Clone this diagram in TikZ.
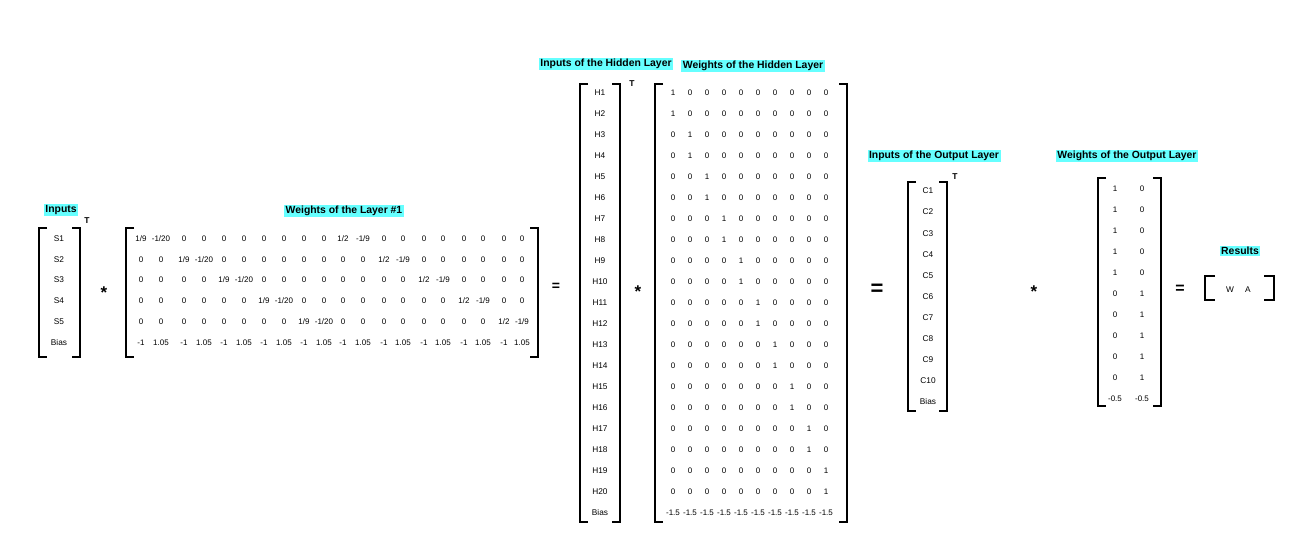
\documentclass[tikz,border=0pt]{standalone}
\usepackage{fontspec}
\setmainfont{Liberation Sans}
\definecolor{hl}{RGB}{102,255,255}
\tikzset{
  lbl/.style={fill=hl,inner xsep=1.5pt,inner ysep=1.2pt,font=\fontsize{10.4}{11}\selectfont\bfseries},
  ent/.style={inner sep=0pt,font=\fontsize{8}{9}\selectfont},
  var/.style={inner sep=0pt,font=\fontsize{8.3}{9}\selectfont},
  brk/.style={line width=1.6pt},
  op/.style={inner sep=0pt,font=\fontsize{17}{18}\selectfont\bfseries},
  tr/.style={inner sep=0pt,font=\fontsize{8.5}{9}\selectfont\bfseries}
}
\newcommand\mbrk[5]{% x1,y1,x2,y2,arm
  \draw[brk] (#1+#5,#2) -- (#1,#2) -- (#1,#4) -- (#1+#5,#4);
  \draw[brk] (#3-#5,#2) -- (#3,#2) -- (#3,#4) -- (#3-#5,#4);}
\begin{document}
\begin{tikzpicture}[x=1pt,y=-1pt]
\useasboundingbox (0,0) rectangle (1294,556);

% ---------- Inputs ----------
\node[lbl] (lblin) at (61,210) {Inputs};
\mbrk{39}{228}{80}{357}{8}
\foreach \t [count=\i from 0] in {S1,S2,S3,S4,S5,Bias}
  \node[var] (in-\i) at (59,238.5+20.8*\i) {\t};
\node[tr] (tin) at (87,221) {T};
\node[op] (op1) at (104,293) {*};

% ---------- Weights of layer 1 ----------
\node[lbl] (lblw1) at (344,211) {Weights of the Layer \#1};
\mbrk{126}{228}{538}{357}{8}
\def\colx{{141,161,184,204,224,244,264,284,304,324,343,363,384,403,424,443,464,483,504,522}}
\foreach \row [count=\r from 0] in {
  {1/9,-1/20,0,0,0,0,0,0,0,0,1/2,-1/9,0,0,0,0,0,0,0,0},
  {0,0,1/9,-1/20,0,0,0,0,0,0,0,0,1/2,-1/9,0,0,0,0,0,0},
  {0,0,0,0,1/9,-1/20,0,0,0,0,0,0,0,0,1/2,-1/9,0,0,0,0},
  {0,0,0,0,0,0,1/9,-1/20,0,0,0,0,0,0,0,0,1/2,-1/9,0,0},
  {0,0,0,0,0,0,0,0,1/9,-1/20,0,0,0,0,0,0,0,0,1/2,-1/9},
  {-1,1.05,-1,1.05,-1,1.05,-1,1.05,-1,1.05,-1,1.05,-1,1.05,-1,1.05,-1,1.05,-1,1.05}}{
  \foreach \v [count=\c from 0] in \row {
    \pgfmathsetmacro\xx{\colx[\c]}
    \node[ent] (wa-\r-\c) at (\xx,238.5+20.8*\r) {\v};
  }
}
\node[op,font=\fontsize{14}{15}\selectfont\bfseries] (eq1) at (556,287) {=};

% ---------- Inputs of hidden layer ----------
\node[lbl] (lblhin) at (606,64) {Inputs of the Hidden Layer};
\mbrk{580}{84}{620}{522}{8}
\foreach \i in {1,...,20}
  \node[var] (h-\i) at (600,93+21*\i-21) {H\i};
\node[var] (h-bias) at (600,513) {Bias};
\node[tr] (thin) at (632,84) {T};
\node[op] (op2) at (638,292) {*};

% ---------- Weights of hidden layer ----------
\node[lbl] (lblhw) at (753,66) {Weights of the Hidden Layer};
\mbrk{655}{84}{847}{522}{8}
\foreach \r in {0,...,19}{
  \pgfmathtruncatemacro\k{floor(\r/2)}
  \foreach \c in {0,...,9}{
    \ifnum\k=\c\relax\def\hv{1}\else\def\hv{0}\fi
    \node[ent] (hw-\r-\c) at (673+17*\c,93+21*\r) {\hv};
  }
}
\foreach \c in {0,...,9}
  \node[ent] (hw-20-\c) at (673+17*\c,513) {-1.5};
\node[op,font=\fontsize{22}{23}\selectfont\bfseries] (eq2) at (877,290) {=};

% ---------- Inputs of output layer ----------
\node[lbl] (lbloin) at (934,156) {Inputs of the Output Layer};
\mbrk{908}{182}{947}{411}{8}
\foreach \i in {1,...,10}
  \node[var] (c-\i) at (928,191+21.1*\i-21.1) {C\i};
\node[var] (c-bias) at (928,402) {Bias};
\node[tr] (toin) at (955,177) {T};
\node[op] (op3) at (1034,292) {*};

% ---------- Weights of output layer ----------
\node[lbl] (lblow) at (1127,156) {Weights of the Output Layer};
\mbrk{1098}{178}{1161}{406}{8}
\foreach \r in {0,...,4}{
  \node[ent] (ow-\r-0) at (1115,189+21*\r) {1};
  \node[ent] (ow-\r-1) at (1142,189+21*\r) {0};
}
\foreach \r in {5,...,9}{
  \node[ent] (ow-\r-0) at (1115,189+21*\r) {0};
  \node[ent] (ow-\r-1) at (1142,189+21*\r) {1};
}
\node[ent] (ow-10-0) at (1115,399) {-0.5};
\node[ent] (ow-10-1) at (1142,399) {-0.5};
\node[op,font=\fontsize{16}{17}\selectfont\bfseries] (eq3) at (1180,289) {=};

% ---------- Results ----------
\node[lbl] (lblres) at (1240,251) {Results};
\mbrk{1205}{276}{1274}{300}{10}
\node[var] (rw) at (1230,290) {W};
\node[var] (ra) at (1248,290) {A};
\end{tikzpicture}
\end{document}
